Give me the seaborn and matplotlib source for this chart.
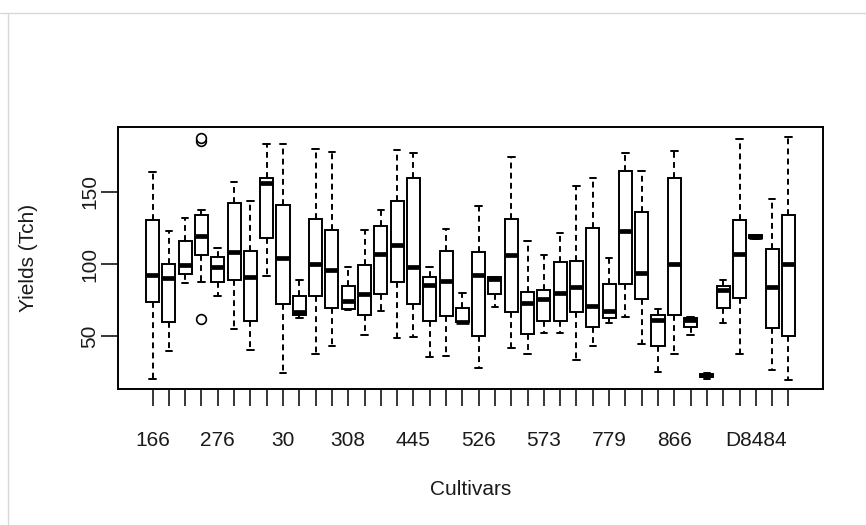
import numpy as np
import pandas as pd
import matplotlib
matplotlib.use("Agg")
import matplotlib.pyplot as plt
import seaborn as sns
from matplotlib.lines import Line2D

# five-number summaries per cultivar, 40 cultivars
lower = [20.4, 40.0, 87.1, 87.8, 78.1, 54.8, 40.5, 91.9, 24.3, 62.4,
         37.5, 43.5, 68.0, 50.8, 67.7, 48.5, 49.7, 35.4, 36.5, 59.5,
         27.8, 70.0, 41.6, 37.5, 52.0, 52.0, 33.5, 43.5, 58.9, 63.5,
         44.6, 25.5, 37.5, 50.8, 20.4, 58.9, 37.5, 117.3, 26.6, 19.7]
q1 = [73.9, 59.6, 93.1, 106.0, 87.8, 88.9, 60.5, 118.2, 72.1, 64.7,
      77.8, 69.3, 69.0, 64.7, 79.0, 87.8, 72.1, 60.8, 64.0, 59.6,
      50.4, 79.0, 66.5, 51.5, 60.5, 60.5, 66.5, 56.6, 62.4, 85.9,
      75.5, 43.5, 64.7, 56.6, 22.0, 69.3, 76.7, 117.8, 55.5, 50.4]
median = [92.2, 90.1, 99.1, 119.4, 98.2, 108.1, 90.8, 155.8, 104.4, 66.5,
          100.0, 95.8, 74.4, 79.0, 106.9, 113.2, 98.2, 85.5, 88.0, 60.1,
          92.4, 89.4, 106.2, 72.8, 75.8, 80.2, 83.8, 70.9, 67.7, 123.1,
          94.0, 61.2, 100.0, 61.2, 23.2, 82.0, 106.9, 118.9, 83.8, 100.0]
q3 = [130.5, 100.0, 116.2, 134.2, 105.1, 142.5, 109.0, 159.8, 141.1, 77.8,
      131.2, 123.5, 85.0, 99.1, 126.3, 143.4, 159.3, 91.2, 109.0, 69.3,
      108.1, 90.8, 131.2, 80.8, 82.0, 101.2, 102.1, 125.2, 85.9, 164.4,
      136.2, 64.7, 159.3, 62.4, 23.8, 85.0, 130.5, 119.8, 110.2, 133.9]
upper = [163.5, 122.8, 132.1, 137.4, 111.3, 156.5, 143.6, 182.8, 182.8, 88.9,
         179.6, 177.5, 98.2, 123.5, 137.4, 178.9, 176.6, 98.2, 124.2, 79.7,
         140.4, 90.8, 174.3, 116.2, 106.2, 121.2, 154.2, 159.3, 104.4, 176.6,
         164.4, 68.6, 178.5, 63.5, 24.3, 88.9, 186.3, 120.1, 145.0, 187.7]

# only some cultivar names are printed on the axis (R drops overlapping ones)
tick_labels = ["166", "", "", "", "276", "", "", "", "30", "",
               "", "", "308", "", "", "", "445", "", "", "",
               "526", "", "", "", "573", "", "", "", "779", "",
               "", "", "866", "", "", "", "", "D8484", "", ""]

# outliers (cultivar index, value)
outlier_idx = [3, 3, 3]
outlier_val = [185.0, 187.0, 61.7]

order = [str(i) for i in range(len(tick_labels))]
rows = []
for i, key in enumerate(order):
    for v in (lower[i], q1[i], median[i], q3[i], upper[i]):
        rows.append((key, v))
df = pd.DataFrame(rows, columns=["cultivar", "yield"])
out_df = pd.DataFrame({"cultivar": [order[i] for i in outlier_idx],
                       "yield": outlier_val})

sns.set_style("ticks")
plt.rcParams["font.family"] = ["Liberation Sans", "DejaVu Sans"]
ink = "#1a1a1a"

fig = plt.figure(figsize=(8.66, 5.25), dpi=100)
ax = fig.add_axes([0.1366, 0.2585, 0.8134, 0.5002])

sns.boxplot(data=df, x="cultivar", y="yield", order=order, ax=ax,
            color="white", saturation=1, linecolor="black", linewidth=1.4,
            width=0.8, whis=(0, 100), showfliers=False,
            medianprops={"linewidth": 3.4, "solid_capstyle": "butt"},
            whiskerprops={"linestyle": (0, (3, 2.2))})
sns.stripplot(data=out_df, x="cultivar", y="yield", order=order, ax=ax,
              jitter=False, size=7, color="white", edgecolor="black",
              linewidth=1.2, zorder=5)
ax.collections[-1].set_facecolor("none")

ax.set_xlim(-2.1, 41.1)
ax.set_ylim(13.2, 195.1)
ax.set_xticks(range(len(order)))
ax.set_xticklabels(tick_labels, fontsize=15, color=ink)
ax.set_yticks([50, 100, 150])
ax.set_yticklabels(["50", "100", "150"], fontsize=15, color=ink,
                   rotation=90, va="center")
ax.tick_params(axis="x", direction="out", length=12, width=1.3, pad=18)
ax.tick_params(axis="y", direction="out", length=12, width=1.3, pad=1.5)
for s in ax.spines.values():
    s.set_visible(True)
    s.set_linewidth(1.4)
    s.set_color("black")

ax.set_xlabel("Cultivars", fontsize=15, color=ink, va="center")
ax.set_ylabel("Yields (Tch)", fontsize=15, color=ink, va="center")
ax.xaxis.set_label_coords(0.5, -0.3835)
ax.yaxis.set_label_coords(-0.128, 0.5)

# thin frame of the screenshot
fig.add_artist(Line2D([0, 1], [1 - 13 / 525, 1 - 13 / 525],
                      transform=fig.transFigure, color="#d8d8d8", lw=1))
fig.add_artist(Line2D([8 / 866, 8 / 866], [0, 1 - 13 / 525],
                      transform=fig.transFigure, color="#d8d8d8", lw=1))

fig.savefig("out.png", dpi=100)
